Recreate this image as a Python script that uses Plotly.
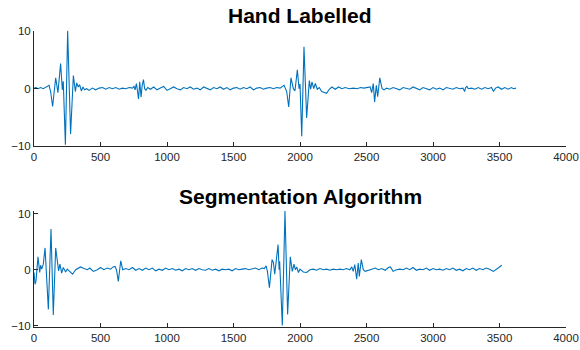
import plotly.graph_objects as go

# ---- data ----
top_x = [0, 15, 30, 50, 70, 90, 113, 125, 140, 163, 180, 200, 213, 220, 236, 253, 275, 296, 311, 321,
         333, 343, 356, 368, 380, 396, 414, 439, 464, 490, 515, 540, 565, 590, 615, 640, 665, 690, 715, 740,
         752, 760, 770, 778, 786, 795, 805, 813, 823, 832, 842, 855, 875, 900, 925, 950, 975, 1000, 1025, 1050,
         1075, 1100, 1125, 1150, 1175, 1200, 1225, 1250, 1275, 1300, 1325, 1350, 1375, 1400, 1425, 1450, 1475, 1500,
         1525, 1550, 1575, 1600, 1625, 1650, 1675, 1700, 1725, 1750, 1775, 1800, 1825, 1850, 1865, 1880, 1900, 1915,
         1932, 1942, 1950, 1962, 1980, 1993, 2000, 2013, 2030, 2050, 2070, 2080, 2090, 2103, 2115, 2130, 2145, 2163,
         2185, 2200, 2220, 2240, 2265, 2290, 2315, 2340, 2370, 2400, 2430, 2455, 2480, 2505, 2527, 2539, 2551, 2561,
         2574, 2584, 2600, 2617, 2632, 2650, 2675, 2700, 2725, 2750, 2775, 2800, 2825, 2850, 2875, 2900, 2925, 2950,
         2975, 3000, 3025, 3050, 3075, 3100, 3125, 3150, 3175, 3200, 3225, 3238, 3245, 3255, 3265, 3290, 3315, 3340,
         3365, 3390, 3415, 3440, 3455, 3470, 3490, 3515, 3540, 3565, 3590, 3605, 3624]
top_y = [0.1, 0.2, 0.0, 0.2, 0.0, 0.3, 0.6, -0.5, -3.1, 1.9, -0.7, 4.4, -0.2, 1.3, -9.8, 10.1, -7.9, 2.3, -0.5, 1.0,
         0.3, 0.7, -0.4, 0.3, -0.2, 0.0, -0.3, 0.1, -0.2, 0.1, 0.2, -0.1, 0.2, 0.0, 0.2, -0.1, 0.1, 0.0, 0.2, 0.1,
         0.4, -0.2, 0.9, -0.4, -1.8, 1.2, -1.5, 0.5, 1.6, 0.0, -0.3, 0.2, -0.1, 0.3, -0.2, 0.1, 0.4, -0.3, 0.0, 0.3,
         0.0, -0.2, 0.2, 0.0, 0.3, -0.1, 0.1, -0.2, 0.3, 0.0, -0.2, 0.2, 0.0, 0.3, -0.1, 0.2, -0.2, 0.1,
         0.2, -0.1, 0.2, 0.0, 0.3, -0.2, 0.1, 0.2, -0.1, 0.1, 0.2, 0.0, 0.2, 0.1, 0.3, 0.6, -0.5, -3.2,
         1.9, 0.8, 0.0, -0.4, 3.3, 0.0, 0.8, -8.3, 7.3, -5.1, 1.4, -0.1, 1.2, 0.0, 0.9, -0.1, 0.2, -0.5,
         -0.6, -0.8, -0.1, 0.3, -0.1, 0.3, 0.0, 0.2, 0.0, 0.1, 0.0, 0.2, 0.1, 0.2, 0.3, -0.7, 0.9, -2.3,
         0.6, -1.4, 1.9, 0.0, -0.2, 0.1, -0.1, 0.2, 0.0, -0.2, 0.2, 0.0, -0.1, 0.3, 0.0, -0.2, 0.2, 0.0,
         -0.2, 0.2, -0.1, 0.1, -0.2, 0.2, 0.0, -0.1, 0.2, 0.0, 0.1, -0.5, 0.2, 0.4, 0.0, 0.1, -0.1, 0.2,
         -0.1, 0.2, 0.0, 0.2, -0.5, 0.1, 0.3, -0.1, 0.2, -0.1, 0.2, 0.0, 0.1]

bot_x = [0, 8, 15, 30, 43, 50, 58, 70, 83, 95, 108, 128, 145, 163, 175, 185, 195, 208, 220, 238,
         250, 265, 290, 313, 335, 350, 376, 401, 420, 431, 446, 476, 500, 525, 550, 575, 595, 609, 620, 634,
         652, 667, 690, 715, 740, 765, 790, 815, 840, 865, 890, 915, 940, 965, 990, 1015, 1040, 1065, 1090, 1115,
         1140, 1165, 1190, 1215, 1240, 1265, 1290, 1315, 1340, 1365, 1390, 1415, 1440, 1465, 1490, 1515, 1540, 1565,
         1590, 1615, 1640, 1665, 1690, 1715, 1732, 1745, 1755, 1770, 1790, 1800, 1810, 1835, 1843, 1847, 1850, 1867,
         1887, 1907, 1927, 1942, 1955, 1965, 1975, 1988, 2000, 2025, 2050, 2075, 2100, 2125, 2150, 2175, 2200, 2225,
         2250, 2275, 2300, 2325, 2350, 2375, 2389, 2400, 2412, 2426, 2438, 2446, 2461, 2476, 2490, 2510, 2540, 2565,
         2590, 2615, 2640, 2665, 2680, 2700, 2725, 2750, 2775, 2800, 2825, 2850, 2875, 2900, 2925, 2950, 2975, 3000,
         3025, 3050, 3075, 3100, 3125, 3150, 3175, 3200, 3225, 3250, 3275, 3300, 3325, 3350, 3375, 3400, 3425, 3454,
         3475, 3495, 3517]
bot_y = [-0.5, -2.6, -2.0, 2.3, -0.5, 0.8, 0.1, 1.0, 3.9, -0.8, -7.1, 7.3, -8.1, 3.9, 2.1, -0.2, 1.0, -0.6, 0.4, -0.4,
         0.1, -0.3, -0.8, 0.0, 0.3, 0.5, 0.2, 0.0, 0.3, 0.1, -0.3, 0.0, 0.4, 0.0, 0.3, 0.1, 0.5, 0.6, 0.0, -2.1,
         1.6, 0.0, 0.2, 0.0, 0.4, -0.1, 0.2, -0.1, 0.3, 0.0, 0.3, -0.2, 0.1, -0.1, 0.3, 0.0, 0.2, -0.1, 0.1, -0.2,
         0.2, 0.0, 0.2, -0.1, 0.2, 0.0, -0.1, 0.2, -0.1, 0.1, -0.2, 0.1, 0.0, 0.1, -0.2, 0.2, 0.0, 0.1,
         0.2, 0.0, 0.1, 0.3, 0.0, 0.3, 0.2, 0.7, -0.3, -3.2, 1.8, 1.3, -0.8, 4.5, 0.0, 1.5, -0.2, -10.0,
         10.5, -8.0, 2.3, -0.3, 1.0, 0.0, 0.5, -0.5, 0.1, -0.4, -0.5, 0.0, 0.1, -0.1, 0.2, 0.0, 0.1, -0.1,
         0.1, 0.0, 0.1, 0.0, 0.2, 0.0, 0.5, -0.3, 0.9, -1.7, 1.2, -1.2, 1.8, 0.0, -0.3, -0.1, 0.1, 0.3,
         0.0, 0.2, -0.1, 0.4, 0.5, -0.3, 0.0, 0.1, 0.0, 0.3, 0.0, 0.4, -0.1, 0.1, 0.0, 0.3, -0.1, 0.2,
         0.0, 0.1, -0.1, 0.2, 0.0, 0.3, -0.1, 0.1, -0.2, 0.2, 0.0, 0.3, -0.1, 0.2, 0.0, 0.3, 0.1, -0.3,
         0.0, 0.4, 0.8]

titles = ["Hand Labelled", "Segmentation Algorithm"]
x_ticks = [0, 500, 1000, 1500, 2000, 2500, 3000, 3500, 4000]
y_ticks = [-10, 0, 10]

LINE = "#0072BD"
AX = "#262626"
FONT = "Liberation Sans, Arial, Helvetica, sans-serif"
W, H = 580, 350

fig = go.Figure()
fig.add_trace(go.Scatter(x=top_x, y=top_y, mode="lines", line=dict(color=LINE, width=1.1),
                         xaxis="x", yaxis="y", showlegend=False, hoverinfo="skip"))
fig.add_trace(go.Scatter(x=bot_x, y=bot_y, mode="lines", line=dict(color=LINE, width=1.1),
                         xaxis="x2", yaxis="y2", showlegend=False, hoverinfo="skip"))

xdom = [34 / W, 566 / W]
axis_common = dict(showgrid=False, zeroline=False, showline=True, linecolor=AX, linewidth=1,
                   ticks="inside", ticklen=4, tickcolor=AX, tickwidth=1, automargin=False,
                   tickfont=dict(family=FONT, size=11.5, color=AX), mirror=False)

fig.update_layout(
    width=W, height=H, margin=dict(l=0, r=0, t=0, b=0, autoexpand=False),
    paper_bgcolor="white", plot_bgcolor="white",
    xaxis=dict(domain=xdom, range=[0, 4000], tickvals=x_ticks, anchor="y", **axis_common),
    yaxis=dict(domain=[(H - 146) / H, (H - 30.5) / H], range=[-10, 10.15], tickvals=y_ticks,
               anchor="x", **axis_common),
    xaxis2=dict(domain=xdom, range=[0, 4000], tickvals=x_ticks, anchor="y2", **axis_common),
    yaxis2=dict(domain=[(H - 326.7) / H, (H - 210.5) / H], range=[-10.2, 10.6], tickvals=y_ticks,
                anchor="x2", **axis_common),
)

fig.add_annotation(text="<b>" + titles[0] + "</b>", x=300 / W, y=(H - 15.5) / H, xref="paper", yref="paper",
                   xanchor="center", yanchor="middle", showarrow=False,
                   font=dict(family=FONT, size=21, color="black"))
fig.add_annotation(text="<b>" + titles[1] + "</b>", x=300 / W, y=(H - 196) / H, xref="paper", yref="paper",
                   xanchor="center", yanchor="middle", showarrow=False,
                   font=dict(family=FONT, size=21, color="black"))

fig.write_html("out.html")
